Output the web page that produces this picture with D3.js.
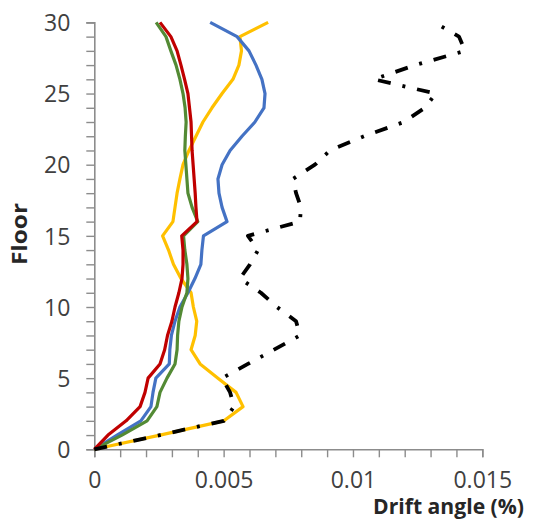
<!DOCTYPE html>
<html>
<head>
<meta charset="utf-8">
<script src="https://cdn.jsdelivr.net/npm/d3@7"></script>
<style>
  html, body { margin: 0; padding: 0; background: #fff; }
  svg { display: block; }
</style>
</head>
<body>
<svg id="chart" width="533" height="529"></svg>
<script>
// Storey drift angle per floor (floors 0..30) for five analysis cases
const floors = d3.range(0, 31);

const redDrift = [0, 0.00053, 0.00123, 0.00177, 0.00196, 0.00208, 0.00254, 0.00272, 0.00283, 0.00300, 0.00312,
  0.00327, 0.00339, 0.00343, 0.00343, 0.00338, 0.00397, 0.00393, 0.00390, 0.00386, 0.00382,
  0.00378, 0.00376, 0.00374, 0.00368, 0.00362, 0.00349, 0.00335, 0.00320, 0.00296, 0.00254];

const greenDrift = [0, 0.00107, 0.00204, 0.00242, 0.00254, 0.00281, 0.00312, 0.00320, 0.00322, 0.00327, 0.00339,
  0.00358, 0.00362, 0.00358, 0.00350, 0.00345, 0.00400, 0.00378, 0.00362, 0.00358, 0.00354,
  0.00350, 0.00352, 0.00355, 0.00351, 0.00343, 0.00331, 0.00316, 0.00296, 0.00277, 0.00239];

const blueDrift = [0, 0.00088, 0.00180, 0.00219, 0.00227, 0.00238, 0.00290, 0.00292, 0.00298, 0.00312, 0.00331,
  0.00362, 0.00389, 0.00412, 0.00416, 0.00422, 0.00513, 0.00494, 0.00482, 0.00478, 0.00494,
  0.00525, 0.00571, 0.00621, 0.00656, 0.00660, 0.00648, 0.00625, 0.00598, 0.00552, 0.00448];

const yellowDrift = [0, 0.00254, 0.00501, 0.00575, 0.00548, 0.00478, 0.00409, 0.00374, 0.00390, 0.00396, 0.00383,
  0.00374, 0.00335, 0.00306, 0.00287, 0.00264, 0.00304, 0.00312, 0.00320, 0.00331, 0.00343,
  0.00366, 0.00393, 0.00420, 0.00455, 0.00494, 0.00536, 0.00559, 0.00569, 0.00563, 0.00672];

const blackDrift = [0, 0.00254, 0.00501, 0.00540, 0.00525, 0.00494, 0.00594, 0.00695, 0.00795, 0.00780, 0.00706,
  0.00644, 0.00563, 0.00602, 0.00633, 0.00594, 0.00795, 0.00799, 0.00780, 0.00768, 0.00853,
  0.00911, 0.01043, 0.01197, 0.01278, 0.01320, 0.01081, 0.01240, 0.01433, 0.01410, 0.01314];

const xTickValues = [0, 0.005, 0.01, 0.015];
const xTickLabels = ["0", "0.005", "0.01", "0.015"];
const yTickValues = [0, 5, 10, 15, 20, 25, 30];

const svg = d3.select("#chart");

const x = d3.scaleLinear().domain([0, 0.015]).range([94.3, 482.3]);
const y = d3.scaleLinear().domain([0, 30]).range([449.3, 22.4]);

const axisColor = "#8c8c8c";
const labelColor = "#404040";
const font = "'Open Sans', 'Noto Sans', sans-serif";

// Y axis: a tick at every floor, labels every 5 floors
const yAxis = svg.append("g")
  .attr("transform", `translate(${x(0)},0)`)
  .call(d3.axisLeft(y)
    .tickValues(floors)
    .tickSize(8)
    .tickPadding(16)
    .tickFormat(d => yTickValues.includes(d) ? String(d) : ""));

// X axis: a tick every 0.001, labels every 0.005
const xAxis = svg.append("g")
  .attr("transform", `translate(0,${y(0)})`)
  .call(d3.axisBottom(x)
    .tickValues(d3.range(0, 16).map(i => i / 1000))
    .tickSize(8)
    .tickPadding(16)
    .tickFormat(d => {
      const i = xTickValues.findIndex(v => Math.abs(v - d) < 1e-9);
      return i >= 0 ? xTickLabels[i] : "";
    }));

[yAxis, xAxis].forEach(g => {
  g.select(".domain").attr("stroke", axisColor).attr("stroke-width", 1.6);
  g.selectAll(".tick line").attr("stroke", axisColor).attr("stroke-width", 1.4);
  g.selectAll(".tick text")
    .attr("fill", labelColor)
    .style("font-family", font)
    .style("font-size", "23px");
});
yAxis.selectAll(".tick text").attr("dy", "0.36em");
xAxis.selectAll(".tick text").attr("dy", "0.62em");

// Axis titles
svg.append("text")
  .attr("x", 373)
  .attr("y", 514)
  .attr("textLength", 151)
  .attr("lengthAdjust", "spacingAndGlyphs")
  .attr("fill", "#262626")
  .style("font-family", font)
  .style("font-weight", "bold")
  .style("font-size", "22px")
  .text("Drift angle (%)");

svg.append("text")
  .attr("transform", `translate(27,234) rotate(-90)`)
  .attr("text-anchor", "middle")
  .attr("textLength", 62)
  .attr("lengthAdjust", "spacingAndGlyphs")
  .attr("fill", "#262626")
  .style("font-family", font)
  .style("font-weight", "bold")
  .style("font-size", "22px")
  .text("Floor");

// Drift profiles
const line = d3.line()
  .x(d => x(d[0]))
  .y(d => y(d[1]));

const series = [
  { values: yellowDrift, color: "#ffc000", width: 3.2, dash: null },
  { values: blueDrift,   color: "#4472c4", width: 3.2, dash: null },
  { values: greenDrift,  color: "#538a34", width: 3.2, dash: null },
  { values: redDrift,    color: "#c00000", width: 3.2, dash: null },
  { values: blackDrift,  color: "#000000", width: 3.8, dash: "13,12,3,12" }
];

svg.append("g")
  .selectAll("path")
  .data(series)
  .join("path")
  .attr("d", s => line(s.values.map((v, i) => [v, floors[i]])))
  .attr("fill", "none")
  .attr("stroke", s => s.color)
  .attr("stroke-width", s => s.width)
  .attr("stroke-linejoin", "round")
  .attr("stroke-dasharray", s => s.dash);
</script>
</body>
</html>
